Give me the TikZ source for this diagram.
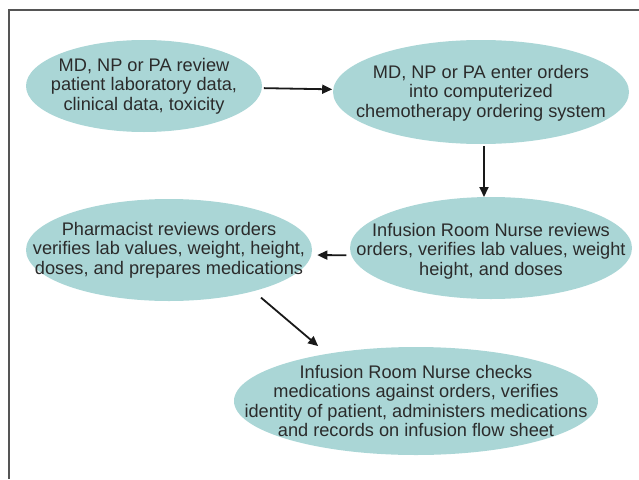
\documentclass[tikz,border=0pt]{standalone}
\usepackage{fontspec}
\setmainfont{Liberation Sans}
\usetikzlibrary{arrows.meta,shapes.geometric}
\definecolor{bubblefill}{HTML}{AAD6D6}
\definecolor{inktext}{HTML}{2B2B2B}
\definecolor{framegray}{HTML}{555555}
\tikzset{
	bubble/.style={ellipse, fill=bubblefill, inner sep=0pt, outer sep=0pt},
	bubbletext/.style={align=center, text=inktext, inner sep=0pt,
		font=\fontsize{18.2}{19.6}\selectfont},
	flowarrow/.style={line width=1.8pt, color=black!90, -{Triangle[length=10pt,width=9pt]}}
}

\begin{document}
\begin{tikzpicture}[x=1pt,y=-1pt]
		%%%%% START %%%%%
		\useasboundingbox (0,0) rectangle (639,479);
		
		% frame
		\draw[line width=2pt, color=framegray] (639,10) -- (8.5,10) -- (8.5,479);
		
		% steps
		\node[bubble, minimum width=236pt, minimum height=92pt,
			label={[bubbletext]center:MD, NP or PA review\\patient laboratory data,\\clinical data, toxicity}] (review) at (144,86) {};
		\node[bubble, minimum width=296pt, minimum height=104pt,
			label={[bubbletext, yshift=-1pt]center:MD, NP or PA enter orders\\into computerized\\chemotherapy ordering system}] (orders) at (481,92) {};
		\node[bubble, minimum width=282pt, minimum height=102pt,
			label={[bubbletext, yshift=-3pt]center:Infusion Room Nurse reviews\\orders, verifies lab values, weight\\height, and doses}] (nursecheck) at (491,248) {};
		\node[bubble, minimum width=286pt, minimum height=102pt,
			label={[bubbletext]center:Pharmacist reviews orders\\verifies lab values, weight, height,\\doses, and prepares medications}] (pharmacist) at (169,250) {};
		\node[bubble, minimum width=364pt, minimum height=108pt,
			label={[bubbletext]center:Infusion Room Nurse checks\\medications against orders, verifies\\identity of patient, administers medications\\and records on infusion flow sheet}] (administer) at (416,401) {};
		
		% arrows
		\draw[flowarrow, shorten <=2pt, shorten >=1pt] (review) -- (orders);
		\draw[flowarrow, shorten <=2pt] ([xshift=3pt]orders.south) -- ([xshift=3pt]orders.south |- nursecheck.north);
		\draw[flowarrow, shorten <=5pt, shorten >=6pt] (nursecheck.183) -- (pharmacist.-2);
		\draw[flowarrow, shorten <=10pt, shorten >=12pt] (pharmacist.-26) -- (administer.152);
		
		%%%%% END %%%%%
	\end{tikzpicture}
\end{document}
